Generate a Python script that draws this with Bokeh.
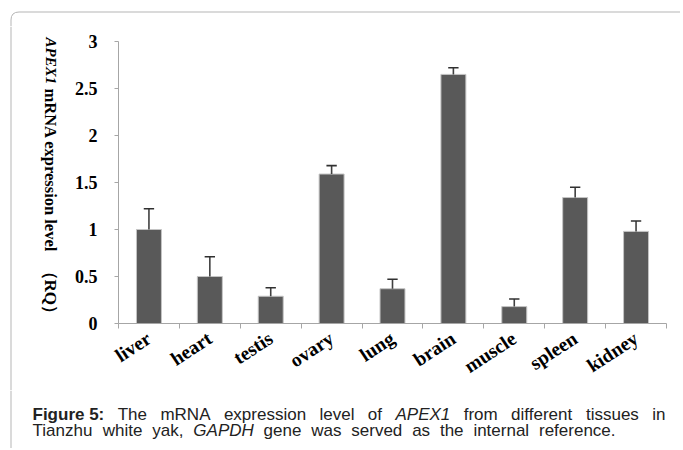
import math
from bokeh.plotting import figure
from bokeh.models import Range1d, FixedTicker, Label
from bokeh.layouts import column, row
from bokeh.embed import file_html
from bokeh.resources import INLINE

# ---- data ----
tissues = ["liver", "heart", "testis", "ovary", "lung", "brain", "muscle", "spleen", "kidney"]
rq = [1.00, 0.50, 0.29, 1.59, 0.37, 2.65, 0.18, 1.34, 0.98]
err = [0.22, 0.21, 0.09, 0.09, 0.10, 0.07, 0.08, 0.11, 0.11]
y_ticks = [0, 0.5, 1, 1.5, 2, 2.5, 3]
y_tick_labels = ["0", "0.5", "1", "1.5", "2", "2.5", "3"]

y_title = [("APEX1", "bold italic"), ("mRNA expression level", "bold"), ("（RQ）", "bold")]
caption_line1 = [("Figure 5:", "bold"), ("The", "normal"), ("mRNA", "normal"), ("expression", "normal"),
                 ("level", "normal"), ("of", "normal"), ("APEX1", "italic"), ("from", "normal"),
                 ("different", "normal"), ("tissues", "normal"), ("in", "normal")]
caption_line2 = [("Tianzhu", "normal"), ("white", "normal"), ("yak,", "normal"), ("GAPDH", "italic"),
                 ("gene", "normal"), ("was", "normal"), ("served", "normal"), ("as", "normal"),
                 ("the", "normal"), ("internal", "normal"), ("reference.", "normal")]

# ---- layout constants (px) ----
TOTAL_W = 680
TOP_H = 26
MID_H = 364
CAP_H = 58
YT_W = 62
ytitle_y = [37, 88, 262]
ytitle_sizes = ["15px", "16.5px", "17px"]
CAP_FS = 17
CAP_LEFT = 32
CAP_RIGHT1 = 665
CAP_RIGHT2 = 615
BORDER = "#b5b5b5"
BX = 10.5

# approximate advance widths (1/1000 em) of Liberation Sans, for laying out caption words
W_REG = {' ': 278, 'a': 556, 'b': 556, 'c': 500, 'd': 556, 'e': 556, 'f': 278, 'g': 556, 'h': 556,
         'i': 222, 'k': 500, 'l': 222, 'm': 833, 'n': 556, 'o': 556, 'p': 556, 'r': 333, 's': 500,
         't': 278, 'u': 556, 'v': 500, 'w': 722, 'x': 500, 'y': 500, 'z': 500, 'A': 667, 'D': 722,
         'E': 667, 'F': 611, 'G': 778, 'H': 722, 'N': 722, 'P': 667, 'R': 722, 'T': 611, 'X': 667,
         '1': 556, '5': 556, ':': 278, ',': 278, '.': 278}
W_BOLD = {'F': 611, 'i': 278, 'g': 611, 'u': 611, 'r': 389, 'e': 556, ' ': 278, '5': 556, ':': 333}


def text_w(txt, st):
    tbl = W_BOLD if st == "bold" else W_REG
    return sum(tbl.get(ch, W_REG.get(ch, 556)) for ch in txt) * CAP_FS / 1000.0


def word_starts(words, left, right):
    ws = [text_w(t, s) for t, s in words]
    gap = (right - left - sum(ws)) / (len(words) - 1)
    xs, cur = [], left
    for w in ws:
        xs.append(cur)
        cur += w + gap
    return xs


def blank_fig(w, h, y0=0):
    f = figure(width=w, height=h, output_backend="svg", toolbar_location=None, tools="",
               x_range=Range1d(0, w), y_range=Range1d(y0 + h, y0),
               x_axis_location=None, y_axis_location=None, min_border=0, frame_align=False)
    f.outline_line_color = None
    f.grid.visible = False
    return f


# ---- top strip with the rounded frame corner ----
top = blank_fig(TOTAL_W, TOP_H)
top.quadratic(x0=[BX], y0=[19.5], x1=[18.5], y1=[11.5], cx=[BX], cy=[11.5], line_color=BORDER, line_width=1)
top.segment(x0=[18.5], y0=[11.5], x1=[TOTAL_W], y1=[11.5], line_color=BORDER, line_width=1)
top.segment(x0=[BX], y0=[19.5], x1=[BX], y1=[TOP_H], line_color=BORDER, line_width=1)

# ---- y title strip (y data = page px) ----
yt = blank_fig(YT_W, MID_H, y0=TOP_H)
yt.segment(x0=[BX], y0=[TOP_H], x1=[BX], y1=[TOP_H + MID_H], line_color=BORDER, line_width=1)
for (txt, st), ypos, fs in zip(y_title, ytitle_y, ytitle_sizes):
    yt.add_layout(Label(x=50, y=ypos, text=txt, angle=-math.pi / 2,
                        text_align="left", text_baseline="middle",
                        text_font="Liberation Serif", text_font_style=st, text_font_size=fs,
                        text_color="black"))

# ---- main chart ----
p = figure(width=TOTAL_W - YT_W, height=MID_H, output_backend="svg", toolbar_location=None, tools="",
           x_range=Range1d(0, len(tissues)), y_range=Range1d(0, 3), frame_align=False,
           min_border_left=56, min_border_right=14, min_border_top=15, min_border_bottom=67)
p.outline_line_color = None
p.xgrid.visible = False
p.ygrid.visible = False

xc = [i + 0.5 for i in range(len(tissues))]
upper = [v + e for v, e in zip(rq, err)]

p.vbar(x=xc, top=rq, bottom=0, width=0.41, fill_color="#595959", line_color="#c4c4c4", line_width=1)
p.segment(x0=xc, y0=rq, x1=xc, y1=upper, line_color="#404040", line_width=1.6)
p.segment(x0=[v - 0.085 for v in xc], y0=upper, x1=[v + 0.085 for v in xc], y1=upper,
          line_color="#303030", line_width=1.6)

serif = "Liberation Serif"
xa = p.xaxis[0]
xa.ticker = FixedTicker(ticks=xc, minor_ticks=list(range(len(tissues) + 1)))
xa.major_label_overrides = {c: t for c, t in zip(xc, tissues)}
xa.major_tick_in = 0
xa.major_tick_out = 0
xa.minor_tick_in = 0
xa.minor_tick_out = 5
xa.minor_tick_line_color = "#a6a6a6"
xa.axis_line_color = "#a6a6a6"
xa.major_label_orientation = 0.58
xa.major_label_standoff = 8
xa.major_label_text_font = serif
xa.major_label_text_font_style = "bold"
xa.major_label_text_font_size = "19.5px"
xa.major_label_text_color = "black"

ya = p.yaxis[0]
ya.ticker = FixedTicker(ticks=y_ticks, minor_ticks=[])
ya.major_label_overrides = {t: l for t, l in zip(y_ticks, y_tick_labels)}
ya.major_tick_in = 0
ya.major_tick_out = 4
ya.major_tick_line_color = "#a6a6a6"
ya.axis_line_color = "#a6a6a6"
ya.major_label_standoff = 17
ya.major_label_text_font = serif
ya.major_label_text_font_style = "bold"
ya.major_label_text_font_size = "18px"
ya.major_label_text_color = "black"

# ---- caption strip (y data = page px) ----
cap_top = TOP_H + MID_H
cap = blank_fig(TOTAL_W, CAP_H, y0=cap_top)
cap.segment(x0=[BX], y0=[cap_top], x1=[BX], y1=[cap_top + CAP_H], line_color=BORDER, line_width=1)
for words, right, base in ((caption_line1, CAP_RIGHT1, 414), (caption_line2, CAP_RIGHT2, 430)):
    for (txt, st), xp in zip(words, word_starts(words, CAP_LEFT, right)):
        cap.add_layout(Label(x=xp, y=base, text=txt,
                             text_align="left", text_baseline="alphabetic",
                             text_font="Liberation Sans", text_font_style=st,
                             text_font_size=f"{CAP_FS}px", text_color="#222222"))

layout = column(top, row(yt, p), cap)
open("out.html", "w").write(file_html(layout, INLINE))
